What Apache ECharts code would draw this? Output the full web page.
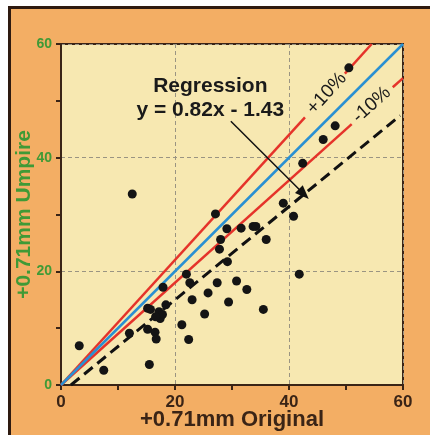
<!DOCTYPE html>
<html>
<head>
<meta charset="utf-8">
<script src="https://cdn.jsdelivr.net/npm/echarts@6/dist/echarts.min.js"></script>
<style>
    body { margin: 0; background: #fff; }
    #chart { width: 430px; height: 435px; }
</style>
</head>
<body>
<div id="chart"></div>
<script>
// scatter points [original, umpire]
const points = [
    [3.2, 6.9], [7.5, 2.6], [12.5, 33.6], [12.0, 9.1], [15.5, 3.6],
    [15.2, 13.5], [15.7, 13.3], [15.2, 9.8], [16.5, 9.3], [16.7, 8.1],
    [17.2, 12.9], [17.4, 11.7], [17.8, 12.4], [17.9, 17.2], [18.4, 14.1],
    [21.2, 10.6], [22.0, 19.5], [22.4, 8.0], [22.6, 18.0], [23.0, 15.0],
    [25.2, 12.5], [25.8, 16.2], [27.1, 30.1], [27.4, 18.0], [27.8, 23.9],
    [28.0, 25.6], [29.1, 27.5], [29.2, 21.7], [29.4, 14.6], [30.8, 18.3],
    [31.6, 27.6], [32.6, 16.8], [33.7, 27.9], [34.2, 27.9], [35.5, 13.3],
    [36.0, 25.6], [39.0, 32.0], [40.8, 29.7], [41.8, 19.5], [42.4, 39.0],
    [46.0, 43.2], [48.1, 45.6], [50.5, 55.8], [16.6, 12.0]
];

// reference lines
const equalLine = [[0, 0], [60, 60]];
const plus10a = [[0, 0], [42.8, 47.1]];
const plus10b = [[49.8, 54.8], [54.5, 60]];
const minus10a = [[0, 0], [51.0, 45.9]];
const minus10b = [[58.2, 52.4], [60, 54]];
const regression = [[1.75, 0], [59.5, 47.4]];

const ticks = [0, 20, 40, 60];

const FONT = 'Liberation Sans';
const BROWN = '#3a2416';
const GREEN = '#3f9a36';
const RED = '#e5332a';
const BLUE = '#2a90d2';

function lineSeries(data, color, type, width) {
    return {
        type: 'line',
        data: data,
        symbol: 'none',
        silent: true,
        lineStyle: { color: color, width: width, type: type },
        z: 3
    };
}

const chart = echarts.init(document.getElementById('chart'));

const option = {
    animation: false,
    graphic: [
        { type: 'rect', shape: { x: 8, y: 6, width: 430, height: 435 }, style: { fill: '#2e1a10' }, z: -10 },
        { type: 'rect', shape: { x: 11, y: 9, width: 430, height: 435 }, style: { fill: '#f3ae64' }, z: -9 }
    ],
    grid: {
        left: 61, right: 27, top: 44, bottom: 50,
        outerBoundsMode: 'none',
        show: true,
        backgroundColor: '#f7e8b1',
        borderColor: BROWN,
        borderWidth: 2
    },
    xAxis: {
        type: 'value',
        min: 0, max: 60, interval: 20,
        name: '+0.71mm Original',
        nameLocation: 'middle',
        nameGap: 24,
        nameMoveOverlap: false,
        nameTextStyle: { color: BROWN, fontFamily: FONT, fontWeight: 'bold', fontSize: 22 },
        axisLine: { lineStyle: { color: BROWN, width: 2 } },
        axisTick: { length: 5, lineStyle: { color: BROWN, width: 2 } },
        minorTick: { show: true, splitNumber: 2, length: 5, lineStyle: { color: BROWN, width: 2 } },
        axisLabel: {
            color: BROWN, fontFamily: FONT, fontWeight: 'bold', fontSize: 17, margin: 9,
            formatter: v => ticks.includes(v) ? String(v) : ''
        },
        splitLine: { lineStyle: { color: '#9a9482', type: [4, 3], width: 1 } }
    },
    yAxis: {
        type: 'value',
        min: 0, max: 60, interval: 20,
        name: '+0.71mm Umpire',
        nameLocation: 'middle',
        nameGap: 26,
        nameMoveOverlap: false,
        nameTextStyle: { color: GREEN, fontFamily: FONT, fontWeight: 'bold', fontSize: 21 },
        axisLine: { lineStyle: { color: BROWN, width: 2 } },
        axisTick: { length: 5, lineStyle: { color: BROWN, width: 2 } },
        minorTick: { show: true, splitNumber: 2, length: 5, lineStyle: { color: BROWN, width: 2 } },
        axisLabel: {
            color: GREEN, fontFamily: FONT, fontWeight: 'bold', fontSize: 14, margin: 9,
            formatter: v => ticks.includes(v) ? String(v) : ''
        },
        splitLine: { lineStyle: { color: '#9a9482', type: [4, 3], width: 1 } }
    },
    series: [
        lineSeries(plus10a, RED, 'solid', 2.5),
        lineSeries(plus10b, RED, 'solid', 2.5),
        lineSeries(minus10a, RED, 'solid', 2.5),
        lineSeries(minus10b, RED, 'solid', 2.5),
        lineSeries(equalLine, BLUE, 'solid', 2.5),
        Object.assign(lineSeries(regression, '#111', [11, 6], 3), {
            markLine: {
                silent: true,
                symbol: ['none', 'triangle'],
                symbolSize: [11, 14],
                lineStyle: { color: '#111', width: 1.5, type: 'solid' },
                label: { show: false },
                data: [[{ coord: [29.8, 46.4] }, { coord: [42.6, 33.6] }]]
            },
            markPoint: {
                silent: true,
                symbol: 'circle',
                symbolSize: 0,
                data: [
                    {
                        coord: [26.2, 50.5],
                        label: {
                            show: true, position: 'inside',
                            formatter: 'Regression\ny = 0.82x - 1.43',
                            color: '#1a1a1a', fontFamily: FONT, fontWeight: 'bold',
                            fontSize: 21, lineHeight: 24, align: 'center'
                        }
                    },
                    {
                        coord: [46.6, 51.3],
                        label: {
                            show: true, position: 'inside', formatter: '+10%', rotate: 47.7,
                            color: '#1a1a1a', fontFamily: FONT, fontSize: 19
                        }
                    },
                    {
                        coord: [54.5, 49.3],
                        label: {
                            show: true, position: 'inside', formatter: '-10%', rotate: 42,
                            color: '#1a1a1a', fontFamily: FONT, fontSize: 19
                        }
                    }
                ]
            }
        }),
        {
            type: 'scatter',
            data: points,
            symbolSize: 9,
            itemStyle: { color: '#141414', opacity: 1 },
            z: 5
        }
    ]
};

chart.setOption(option);
</script>
</body>
</html>
